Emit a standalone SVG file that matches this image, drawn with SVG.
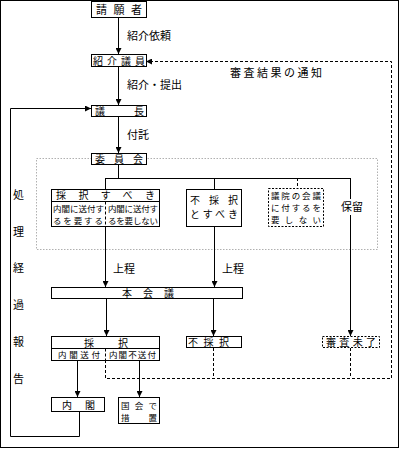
<svg xmlns="http://www.w3.org/2000/svg" width="400" height="449" viewBox="0 0 400 449">
<style>
text{font-family:"Noto Sans CJK JP","Noto Sans CJK SC",sans-serif;fill:#000;}
.b{fill:#fff;stroke:#000;stroke-width:1;}
.bd{fill:#fff;stroke:#000;stroke-width:1;stroke-dasharray:2,1.5;}
.l{fill:none;stroke:#000;stroke-width:1;}
.d{fill:none;stroke:#000;stroke-width:1;stroke-dasharray:3,2;}
.t{font-size:11px;}
.m{font-size:10px;}
.s{font-size:8.5px;}
</style>
<defs>
<marker id="ah" viewBox="0 0 6 6" refX="6" refY="3" markerWidth="6" markerHeight="6" markerUnits="userSpaceOnUse" orient="auto">
<path d="M0,0 L6,3 L0,6 z" fill="#000"/>
</marker>
</defs>
<rect x="0.5" y="0.5" width="398" height="447" fill="#fff" stroke="#000" stroke-width="1"/>
<rect x="36.5" y="158.5" width="341" height="91" fill="none" stroke="#b0b0b0" stroke-width="1" stroke-dasharray="1.5,1.5"/>
<g id="connectors">
<line class="l" x1="118.5" y1="17" x2="118.5" y2="54" marker-end="url(#ah)"/>
<line class="l" x1="118.5" y1="66" x2="118.5" y2="105" marker-end="url(#ah)"/>
<line class="l" x1="118.5" y1="116" x2="118.5" y2="153" marker-end="url(#ah)"/>
<polyline class="l" points="118.5,164 118.5,178.5"/>
<line class="l" x1="105" y1="178.5" x2="350.5" y2="178.5"/>
<line class="l" x1="105.5" y1="178" x2="105.5" y2="189"/>
<line class="l" x1="214.5" y1="178" x2="214.5" y2="189"/>
<line class="d" x1="297.5" y1="178" x2="297.5" y2="188"/>
<line class="l" x1="350.5" y1="178" x2="350.5" y2="199"/>
<line class="l" x1="350.5" y1="215" x2="350.5" y2="336" marker-end="url(#ah)"/>
<line class="l" x1="105.5" y1="226" x2="105.5" y2="287" marker-end="url(#ah)"/>
<line class="l" x1="214.5" y1="226" x2="214.5" y2="287" marker-end="url(#ah)"/>
<line class="l" x1="106.5" y1="298" x2="106.5" y2="336" marker-end="url(#ah)"/>
<line class="l" x1="213.5" y1="298" x2="213.5" y2="336" marker-end="url(#ah)"/>
<line class="l" x1="77.5" y1="360" x2="77.5" y2="397" marker-end="url(#ah)"/>
<line class="l" x1="139.5" y1="360" x2="139.5" y2="397" marker-end="url(#ah)"/>
<polyline class="l" points="79.5,411 79.5,436.5 10.5,436.5 10.5,108.5 91,108.5" marker-end="url(#ah)"/>
<polyline class="d" points="105.5,360 105.5,378.5 391.5,378.5 391.5,61.5 146,61.5" marker-end="url(#ah)"/>
<line class="d" x1="213.5" y1="348" x2="213.5" y2="378"/>
<line class="d" x1="350.5" y1="348" x2="350.5" y2="378"/>
</g>
<g id="labels">
<text class="t" x="127" y="40">紹介依頼</text>
<text class="t" x="127" y="89">紹介・提出</text>
<text class="t" x="127" y="139">付託</text>
<text class="t" x="230" y="77" textLength="92" lengthAdjust="spacing">審査結果の通知</text>
<text class="t" x="113" y="273">上程</text>
<text class="t" x="222" y="273">上程</text>
<text class="t" x="341" y="211">保留</text>
<text class="t" x="13" y="199">処</text>
<text class="t" x="13" y="236">理</text>
<text class="t" x="13" y="272">経</text>
<text class="t" x="13" y="309">過</text>
<text class="t" x="13" y="346">報</text>
<text class="t" x="13" y="383">告</text>
</g>
<g id="n-seigan">
<rect class="b" x="91.5" y="1.5" width="55" height="16"/>
<text class="t" x="96" y="14" textLength="46" lengthAdjust="spacing">請願者</text>
</g>
<g id="n-shokai">
<rect class="b" x="91.5" y="54.5" width="55" height="12"/>
<text class="m" x="93" y="64.5" textLength="52" lengthAdjust="spacing">紹介議員</text>
</g>
<g id="n-gicho">
<rect class="b" x="91.5" y="105.5" width="55" height="11"/>
<text class="m" x="95" y="114.5" textLength="49" lengthAdjust="spacing">議長</text>
</g>
<g id="n-iinkai">
<rect class="b" x="91.5" y="153.5" width="55" height="11"/>
<text class="m" x="95" y="162.5" textLength="48" lengthAdjust="spacing">委員会</text>
</g>
<g id="n-saitakusubeki">
<rect class="b" x="51.5" y="189.5" width="108" height="37"/>
<line class="l" x1="51.5" y1="201.5" x2="159.5" y2="201.5"/>
<line class="d" x1="105.5" y1="201.5" x2="105.5" y2="226.5"/>
<text class="m" x="56" y="199" textLength="99" lengthAdjust="spacing">採択すべき</text>
<text class="s" x="53" y="212" textLength="51" lengthAdjust="spacing">内閣に送付す</text>
<text class="s" x="53" y="223.5" textLength="50" lengthAdjust="spacing">るを要する</text>
<text class="s" x="108" y="212" textLength="50" lengthAdjust="spacing">内閣に送付す</text>
<text class="s" x="108" y="223.5" textLength="50" lengthAdjust="spacing">るを要しない</text>
</g>
<g id="n-fusaitakusubeki">
<rect class="b" x="186.5" y="189.5" width="55" height="37"/>
<text class="m" x="190" y="204" textLength="48" lengthAdjust="spacing">不採択</text>
<text class="m" x="190" y="218" textLength="48" lengthAdjust="spacing">とすべき</text>
</g>
<g id="n-giin">
<rect class="bd" x="268.5" y="188.5" width="55" height="38"/>
<text class="s" x="271" y="199" textLength="50" lengthAdjust="spacing">議院の会議</text>
<text class="s" x="271" y="211" textLength="50" lengthAdjust="spacing">に付するを</text>
<text class="s" x="271" y="223" textLength="50" lengthAdjust="spacing">要しない</text>
</g>
<g id="n-honkaigi">
<rect class="b" x="51.5" y="287.5" width="191" height="11"/>
<text class="m" x="122" y="296.5" textLength="52" lengthAdjust="spacing">本会議</text>
</g>
<g id="n-saitaku">
<rect class="b" x="51.5" y="336.5" width="108" height="24"/>
<line class="l" x1="51.5" y1="348.5" x2="159.5" y2="348.5"/>
<line class="d" x1="105.5" y1="348.5" x2="105.5" y2="360.5"/>
<text class="m" x="84" y="346.5" textLength="44" lengthAdjust="spacing">採択</text>
<text class="s" x="58" y="358" textLength="42" lengthAdjust="spacing">内閣送付</text>
<text class="s" x="109" y="358" textLength="47" lengthAdjust="spacing">内閣不送付</text>
</g>
<g id="n-fusaitaku">
<rect class="b" x="186.5" y="336.5" width="55" height="11"/>
<text class="m" x="188" y="345.5" textLength="41" lengthAdjust="spacing">不採択</text>
</g>
<g id="n-shinsamiryo">
<rect class="bd" x="322.5" y="336.5" width="57" height="11"/>
<text class="m" x="326" y="345.5" textLength="50" lengthAdjust="spacing">審査未了</text>
</g>
<g id="n-naikaku">
<rect class="b" x="51.5" y="397.5" width="53" height="14"/>
<text class="m" x="62" y="408.5" textLength="33" lengthAdjust="spacing">内閣</text>
</g>
<g id="n-kokkai">
<rect class="b" x="118.5" y="397.5" width="41" height="26"/>
<text class="s" x="121" y="408.5" textLength="36" lengthAdjust="spacing">国会で</text>
<text class="s" x="121" y="420.5" textLength="36" lengthAdjust="spacing">措置</text>
</g>
</svg>
